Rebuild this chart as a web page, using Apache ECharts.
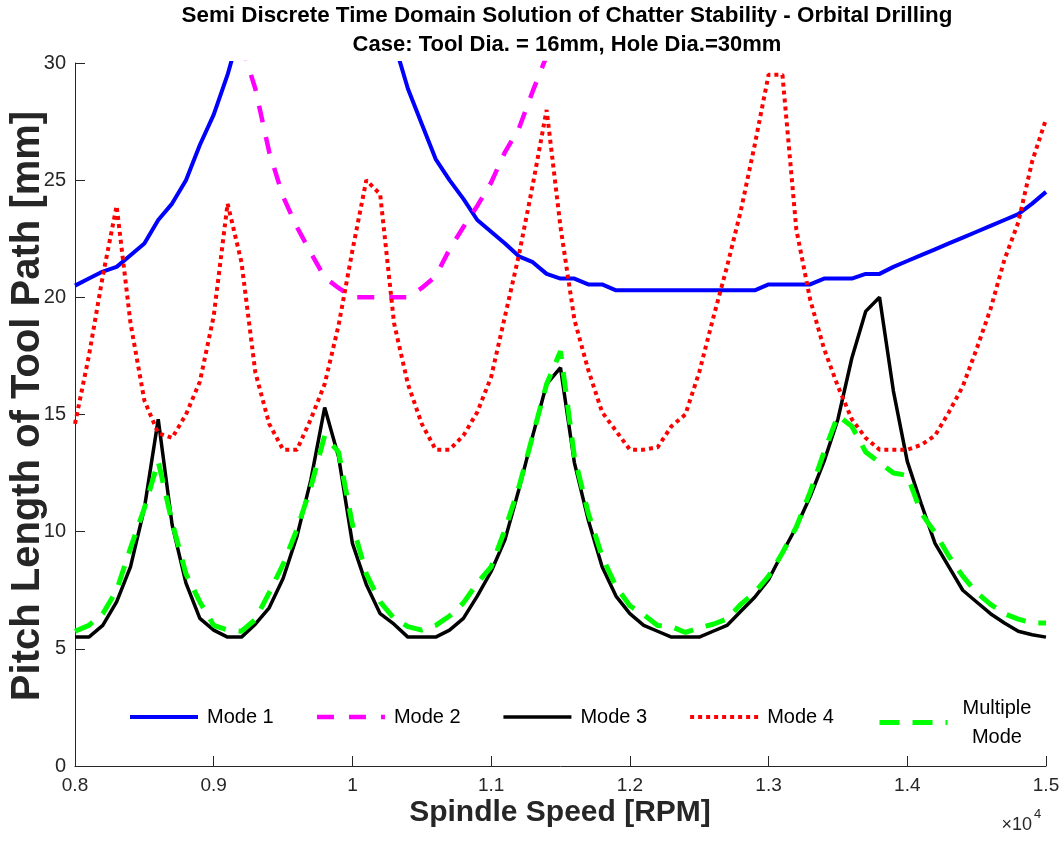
<!DOCTYPE html>
<html>
<head>
<meta charset="utf-8">
<script src="https://cdn.jsdelivr.net/npm/echarts@6/dist/echarts.min.js"></script>
<style>
  html, body { margin: 0; padding: 0; background: #fff; }
  #main { width: 1062px; height: 844px; }
</style>
</head>
<body>
<div id="main"></div>
<script>
// spindle speeds [RPM]
var speeds = [8000, 8100, 8200, 8300, 8400, 8500, 8600, 8700, 8800, 8900,
  9000, 9100, 9200, 9300, 9400, 9500, 9600, 9700, 9800, 9900,
  10000, 10100, 10200, 10300, 10400, 10500, 10600, 10700, 10800, 10900,
  11000, 11100, 11200, 11300, 11400, 11500, 11600, 11700, 11800, 11900,
  12000, 12100, 12200, 12300, 12400, 12500, 12600, 12700, 12800, 12900,
  13000, 13100, 13200, 13300, 13400, 13500, 13600, 13700, 13800, 13900,
  14000, 14100, 14200, 14300, 14400, 14500, 14600, 14700, 14800, 14900,
  15000];

// pitch length [mm] per mode
var mode1 = [20.5, 20.8, 21.1, 21.3, 21.8, 22.3, 23.3, 24.0, 25.0, 26.5,
  27.8, 29.5, 31.6, 33.5, 35.5, 37.5, 39.0, 40.0, 40.0, 39.0,
  37.0, 35.0, 33.0, 30.9, 28.9, 27.4, 25.9, 25.0, 24.2, 23.3,
  22.8, 22.3, 21.75, 21.5, 21.0, 20.8, 20.8, 20.55, 20.55, 20.3,
  20.3, 20.3, 20.3, 20.3, 20.3, 20.3, 20.3, 20.3, 20.3, 20.3,
  20.55, 20.55, 20.55, 20.55, 20.8, 20.8, 20.8, 21.0, 21.0, 21.3,
  21.55, 21.8, 22.05, 22.3, 22.55, 22.8, 23.05, 23.3, 23.55, 24.0,
  24.5];

var mode2Speeds = [9200, 9300, 9400, 9500, 9600, 9700, 9800, 9900,
  10000, 10100, 10200, 10300, 10400, 10500, 10600, 10700, 10800, 10900,
  11000, 11100, 11200, 11300, 11400];
var mode2 = [30.8, 28.9, 26.2, 24.3, 23.0, 21.9, 20.85, 20.4,
  20.0, 20.0, 20.0, 20.0, 20.0, 20.4, 20.9, 22.05, 23.0, 23.9,
  24.9, 26.2, 27.2, 28.8, 30.3];

var mode3 = [5.5, 5.5, 6.0, 7.0, 8.5, 11.0, 14.8, 10.3, 7.8, 6.3,
  5.8, 5.5, 5.5, 6.05, 6.75, 8.0, 9.8, 12.2, 15.3, 13.2,
  9.5, 7.75, 6.5, 6.05, 5.5, 5.5, 5.5, 5.8, 6.3, 7.25,
  8.3, 9.66, 11.8, 14.1, 16.3, 17.0, 12.95, 10.5, 8.5, 7.25,
  6.5, 6.0, 5.75, 5.5, 5.5, 5.5, 5.75, 6.0, 6.6, 7.2,
  7.95, 9.1, 10.2, 11.5, 13.0, 14.8, 17.4, 19.4, 20.0, 16.0,
  13.0, 11.2, 9.5, 8.5, 7.5, 7.0, 6.5, 6.1, 5.75, 5.6,
  5.5];

var mode4 = [14.6, 17.5, 20.9, 23.9, 18.9, 15.6, 14.2, 14.0, 15.0, 16.4,
  19.2, 24.0, 21.5, 16.8, 14.6, 13.5, 13.5, 14.8, 16.3, 18.8,
  22.0, 25.0, 24.4, 18.9, 16.3, 14.6, 13.5, 13.5, 14.1, 15.1,
  16.6, 19.2, 21.8, 24.8, 28.0, 23.0, 19.05, 16.9, 15.1, 14.3,
  13.5, 13.5, 13.6, 14.5, 15.0, 16.8, 19.1, 21.3, 23.7, 26.5,
  29.5, 29.5, 22.9, 19.9, 17.8, 16.2, 14.8, 14.0, 13.5, 13.5,
  13.5, 13.7, 14.1, 15.1, 16.2, 17.8, 19.5, 21.6, 23.2, 25.8,
  27.6];

var multiMode = [5.75, 6.0, 6.5, 7.5, 9.3, 11.0, 13.0, 10.4, 8.2, 7.0,
  6.0, 5.8, 5.75, 6.25, 7.4, 8.6, 10.1, 11.9, 14.1, 13.4,
  10.3, 8.2, 7.0, 6.3, 5.95, 5.8, 6.0, 6.4, 6.96, 7.8,
  8.5, 10.1, 11.9, 14.1, 16.3, 17.7, 13.2, 10.8, 8.94, 7.66,
  6.84, 6.45, 6.0, 5.95, 5.7, 5.9, 6.05, 6.27, 6.9, 7.4,
  8.1, 9.1, 10.2, 11.7, 13.4, 14.95, 14.5, 13.4, 12.95, 12.5,
  12.4, 10.8, 9.96, 8.95, 8.1, 7.4, 6.9, 6.5, 6.27, 6.1,
  6.1];

var seriesNames = ['Mode 1', 'Mode 2', 'Mode 3', 'Mode 4', 'Multiple Mode'];

var FONT = '"Liberation Sans", Arial, Helvetica, sans-serif';
var AXIS_COLOR = '#262626';

function pairs(xs, ys) {
  return xs.map(function(x, i) { return [x, ys[i]]; });
}

function lineSeries(name, data, color, width, type) {
  return {
    name: name,
    type: 'line',
    data: data,
    symbol: 'none',
    showSymbol: false,
    clip: true,
    lineStyle: { color: color, width: width, type: type, cap: 'butt' },
    itemStyle: { color: color }
  };
}

var myChart = echarts.init(document.getElementById('main'), null, { renderer: 'canvas' });

// legend: line samples only (same width/dash as the series), no symbol
var legendBase = {
  orient: 'horizontal',
  padding: 0,
  itemWidth: 68,
  itemHeight: 22,
  itemStyle: { opacity: 0 },
  lineStyle: { width: 'inherit', type: 'inherit', opacity: 1 }
};

var option = {
  backgroundColor: '#ffffff',
  animation: false,
  textStyle: { fontFamily: FONT },
  grid: { left: 75, right: 16, top: 63, bottom: 78, containLabel: false, outerBoundsMode: 'none' },
  legend: [
    Object.assign({}, legendBase, {
      data: seriesNames.slice(0, 4),
      left: 128,
      top: 707,
      itemGap: 41,
      textStyle: { fontSize: 20, color: '#000', fontFamily: FONT, padding: [0, 0, 0, 4] }
    }),
    Object.assign({}, legendBase, {
      data: ['Multiple Mode'],
      left: 877,
      top: 698,
      formatter: function() { return '{c|Multiple}\n{c|Mode}'; },
      textStyle: {
        fontSize: 20, color: '#000', fontFamily: FONT, padding: [0, 0, 0, 10],
        rich: { c: { fontSize: 20, lineHeight: 29, align: 'center', fontFamily: FONT, color: '#000' } }
      }
    })
  ],
  xAxis: {
    type: 'value',
    min: 8000,
    max: 15000,
    interval: 1000,
    axisLine: { lineStyle: { color: AXIS_COLOR, width: 1 } },
    axisTick: { inside: true, length: 10, lineStyle: { color: AXIS_COLOR } },
    axisLabel: {
      margin: 10, fontSize: 19, color: AXIS_COLOR, fontFamily: FONT,
      showMinLabel: true, showMaxLabel: true,
      formatter: function(v) { return String(+(v / 10000).toFixed(2)); }
    },
    splitLine: { show: false }
  },
  yAxis: {
    type: 'value',
    min: 0,
    max: 30,
    interval: 5,
    axisLine: { show: true, lineStyle: { color: AXIS_COLOR, width: 1 } },
    axisTick: { show: true, inside: true, length: 10, lineStyle: { color: AXIS_COLOR } },
    axisLabel: { margin: 9, fontSize: 20, color: AXIS_COLOR, fontFamily: FONT },
    splitLine: { show: false }
  },
  graphic: [{
    type: 'text', x: 567, y: 16,
    style: {
      text: 'Semi Discrete Time Domain Solution of Chatter Stability - Orbital Drilling',
      fill: '#000', font: 'bold 22.4px ' + FONT, align: 'center', verticalAlign: 'middle'
    }
  }, {
    type: 'text', x: 567, y: 45,
    style: {
      text: 'Case: Tool Dia. = 16mm, Hole Dia.=30mm',
      fill: '#000', font: 'bold 22px ' + FONT, align: 'center', verticalAlign: 'middle'
    }
  }, {
    // y axis title
    type: 'text', x: 28, y: 406, rotation: Math.PI / 2,
    style: {
      text: 'Pitch Length of Tool Path [mm]',
      fill: AXIS_COLOR, font: 'bold 40px ' + FONT, align: 'center', verticalAlign: 'middle'
    }
  }, {
    // x axis title
    type: 'text', x: 560, y: 813,
    style: {
      text: 'Spindle Speed [RPM]',
      fill: AXIS_COLOR, font: 'bold 30px ' + FONT, align: 'center', verticalAlign: 'middle'
    }
  }, {
    type: 'text', x: 1032, y: 825,
    style: { text: '\u00d710', fill: AXIS_COLOR, font: '18px ' + FONT, align: 'right', verticalAlign: 'middle' }
  }, {
    type: 'text', x: 1034, y: 814,
    style: { text: '4', fill: AXIS_COLOR, font: '13px ' + FONT, align: 'left', verticalAlign: 'middle' }
  }],
  series: [
    lineSeries('Mode 1', pairs(speeds, mode1), '#0000ff', 4, 'solid'),
    lineSeries('Mode 2', pairs(mode2Speeds, mode2), '#ff00ff', 4.5, [17, 15]),
    lineSeries('Mode 3', pairs(speeds, mode3), '#000000', 3.5, 'solid'),
    lineSeries('Mode 4', pairs(speeds, mode4), '#ff0000', 4, [4, 4]),
    lineSeries('Multiple Mode', pairs(speeds, multiMode), '#00ff00', 5, [20, 13])
  ]
};

myChart.setOption(option);
</script>
</body>
</html>
